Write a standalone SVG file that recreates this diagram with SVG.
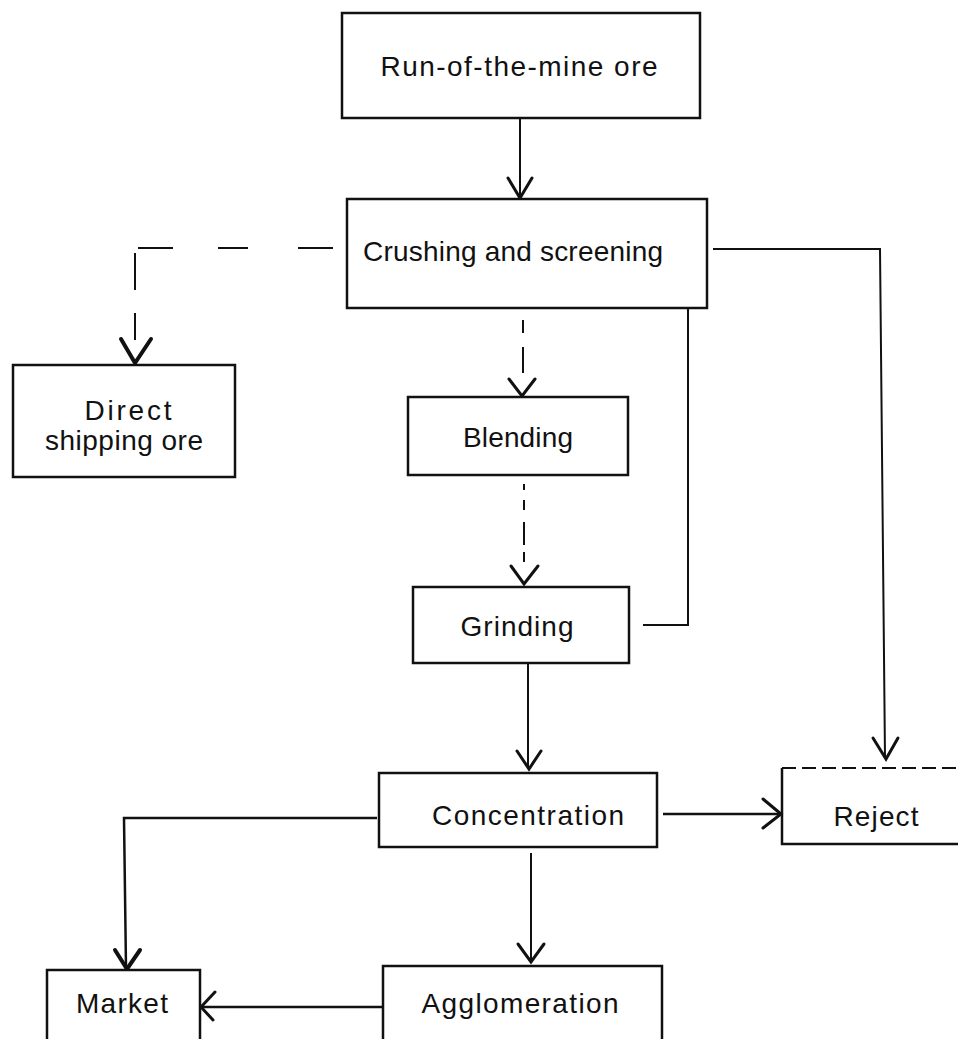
<svg xmlns="http://www.w3.org/2000/svg" width="958" height="1039" viewBox="0 0 958 1039">
<style>
.box{fill:#fff;stroke:#111;stroke-width:2.5}
.lbl{font-family:"Liberation Sans",Arial,sans-serif;font-size:28px;fill:#111;text-anchor:middle}
.c{fill:none;stroke:#111;stroke-width:2;stroke-linejoin:miter}
.ah{fill:none;stroke:#111;stroke-width:3;stroke-linejoin:miter;stroke-linecap:round}
</style>
<rect width="958" height="1039" fill="#fff"/>
<g id="connectors">
  <!-- Run-of-the-mine -> Crushing -->
  <path class="c" d="M520,118 V198"/>
  <path class="ah" d="M508,178 L520,198 L532,178"/>
  <!-- Crushing -> Direct shipping (dashed) -->
  <path class="c" d="M298,248 H333 M218,248 H248 M138,248 H173 M135,253 V290 M135,313 V340"/>
  <path class="ah" style="stroke-width:4" d="M121,339 L135,363 L151,339"/>
  <!-- Crushing -> Blending (dashed) -->
  <path class="c" d="M523,320 V333 M523,347 V373"/>
  <path class="ah" d="M509,379 L522,396 L535,379"/>
  <!-- Blending -> Grinding (dashed) -->
  <path class="c" d="M524,484 V490 M524,500 V510 M524,522 V545 M524,552 V562"/>
  <path class="ah" d="M511,566 L524,584 L538,566"/>
  <!-- Crushing -> Grinding return line -->
  <path class="c" d="M688,308 V625 H643"/>
  <!-- Crushing -> Reject -->
  <path class="c" d="M713,249 H880 L885,758"/>
  <path class="ah" d="M873,738 L886,759 L898,738"/>
  <!-- Grinding -> Concentration -->
  <path class="c" d="M528,663 V768"/>
  <path class="ah" d="M517,751 L529,769 L541,751"/>
  <!-- Concentration -> Reject -->
  <path class="c" style="stroke-width:2.5" d="M663,814 H780"/>
  <path class="ah" d="M763,799 L781,814 L763,828"/>
  <!-- Concentration -> Agglomeration -->
  <path class="c" d="M531,853 V962"/>
  <path class="ah" d="M518,944 L531,962 L544,944"/>
  <!-- Concentration -> Market -->
  <path class="c" style="stroke-width:2.5" d="M377,818 H124 L126,968"/>
  <path class="ah" style="stroke-width:4" d="M115,950 L127,969 L140,950"/>
  <!-- Agglomeration -> Market -->
  <path class="c" style="stroke-width:2.5" d="M383,1007 H202"/>
  <path class="ah" d="M215,992 L201,1007 L213,1020"/>
</g>
<g id="run-of-the-mine">
  <rect class="box" x="342" y="13" width="358" height="105"/>
  <text class="lbl" x="519" y="76" textLength="277">Run-of-the-mine ore</text>
</g>
<g id="crushing">
  <rect class="box" x="347" y="199" width="360" height="109"/>
  <text class="lbl" x="513" y="261" textLength="300">Crushing and screening</text>
</g>
<g id="direct-shipping">
  <rect class="box" x="13" y="365" width="222" height="112"/>
  <text class="lbl" x="128" y="420" textLength="87">Direct</text>
  <text class="lbl" x="124" y="450" textLength="158">shipping ore</text>
</g>
<g id="blending">
  <rect class="box" x="408" y="397" width="220" height="78"/>
  <text class="lbl" x="518" y="447" textLength="110">Blending</text>
</g>
<g id="grinding">
  <rect class="box" x="413" y="587" width="216" height="76"/>
  <text class="lbl" x="517" y="636" textLength="113">Grinding</text>
</g>
<g id="concentration">
  <rect class="box" x="379" y="773" width="278" height="74"/>
  <text class="lbl" x="528" y="825" textLength="192">Concentration</text>
</g>
<g id="reject">
  <path class="box" style="fill:none" d="M782,768 V844 H965"/>
  <path class="box" style="fill:none;stroke-width:2;stroke-dasharray:14 6" d="M782,768 H965"/>
  <text class="lbl" x="876" y="826" textLength="85">Reject</text>
</g>
<g id="market">
  <rect class="box" x="47" y="970" width="153" height="80"/>
  <text class="lbl" x="122" y="1013" textLength="92">Market</text>
</g>
<g id="agglomeration">
  <rect class="box" x="383" y="966" width="279" height="84"/>
  <text class="lbl" x="520" y="1013" textLength="197">Agglomeration</text>
</g>
</svg>
